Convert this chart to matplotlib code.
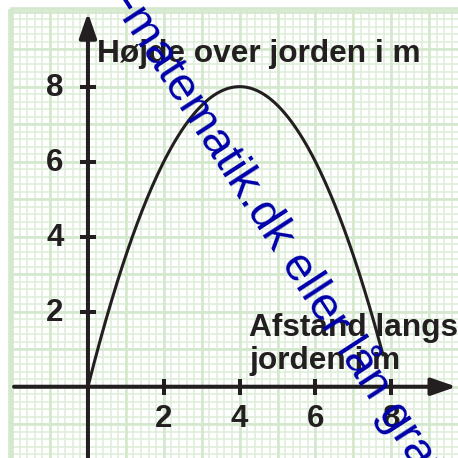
import numpy as np
import matplotlib
matplotlib.use('Agg')  # ingen skærm
import matplotlib.pyplot as plt

# Parablen y = a*x^2 + b*x + c, tegnet fra x_start til x_slut
koef = [-0.5, 4.0, 0.0]
x_start, x_slut = 0.0, 7.78

x_ticks = [2, 4, 6, 8]
y_ticks = [2, 4, 6, 8]
x_labels = ['2', '4', '6', '8']
y_labels = ['2', '4', '6', '8']

y_titel = 'Højde over jorden i m'
x_titel = 'Afstand langs\njorden i m'
vandmaerke = 'e-matematik.dk eller lån gratis'

SORT = '#231f20'
BLAA = '#0000aa'
GRID_STOR = '#d3e8cd'
GRID_LILLE = '#ddeed8'

plt.rcParams['font.family'] = ['Liberation Sans', 'DejaVu Sans']

fig = plt.figure(figsize=(4.58, 4.58), dpi=100)
ax = fig.add_axes([0, 0, 1, 1])
ax.set_xlim(-2.32, 9.76)
ax.set_ylim(-1.90, 10.31)
ax.axis('off')

# Millimeterpapir
gx0, gy1 = -2.06, 10.08
xmin, xmax = ax.get_xlim()
ymin, ymax = ax.get_ylim()
lille_x = np.arange(-2, 9.8, 0.2)
lille_y = np.arange(-1.8, 10.0, 0.2)
ax.vlines(lille_x, ymin, gy1, color=GRID_LILLE, lw=1.1, zorder=1)
ax.hlines(lille_y, gx0, xmax, color=GRID_LILLE, lw=1.1, zorder=1)
ax.vlines(np.arange(-2, 10), ymin, gy1, color=GRID_STOR, lw=1.9, zorder=1)
ax.hlines(np.arange(-1, 11), gx0, xmax, color=GRID_STOR, lw=1.9, zorder=1)
ax.vlines([gx0], ymin, gy1, color=GRID_STOR, lw=2.6, zorder=1)
ax.hlines([gy1], gx0, xmax, color=GRID_STOR, lw=2.6, zorder=1)

# Akser med pile
pil = dict(arrowstyle='-|>,head_length=0.75,head_width=0.26', mutation_scale=20,
           lw=2.9, color=SORT, shrinkA=0, shrinkB=0)
ax.annotate('', xy=(9.72, 0), xytext=(-1.95, 0), arrowprops=pil, zorder=3)
ax.annotate('', xy=(0, 9.97), xytext=(0, ymin), arrowprops=pil, zorder=3)

ax.plot(x_ticks, [0] * len(x_ticks), ls='none', marker='|', ms=11.5, mew=2.9,
        color=SORT, zorder=3)
ax.plot([0] * len(y_ticks), y_ticks, ls='none', marker='_', ms=11.5, mew=2.9,
        color=SORT, zorder=3)

for v, s in zip(x_ticks, x_labels):
    ax.text(v, -0.86, s, ha='center', va='center', fontsize=22.5,
            fontweight='bold', color=SORT)
for v, s in zip(y_ticks, y_labels):
    ax.text(-0.87, v - 0.03, s, ha='center', va='center', fontsize=22.5,
            fontweight='bold', color=SORT)

# Kurven
x = np.linspace(x_start, x_slut, 300)
ax.plot(x, np.polyval(koef, x), color=SORT, lw=2.2, zorder=4)

ax.text(0.24, 8.66, y_titel, ha='left', va='baseline', fontsize=22.8,
        fontweight='bold', color=SORT, zorder=5)
ax.text(4.25, 0.47, x_titel, ha='left', va='baseline', fontsize=22.8,
        fontweight='bold', color=SORT, linespacing=1.12, zorder=5)

ax.text(0.24, 10.80, vandmaerke, rotation=-57, rotation_mode='anchor',
        ha='left', va='baseline', fontsize=34, color=BLAA, zorder=10,
        clip_on=False)

plt.savefig('out.png', dpi=100)
plt.close()
